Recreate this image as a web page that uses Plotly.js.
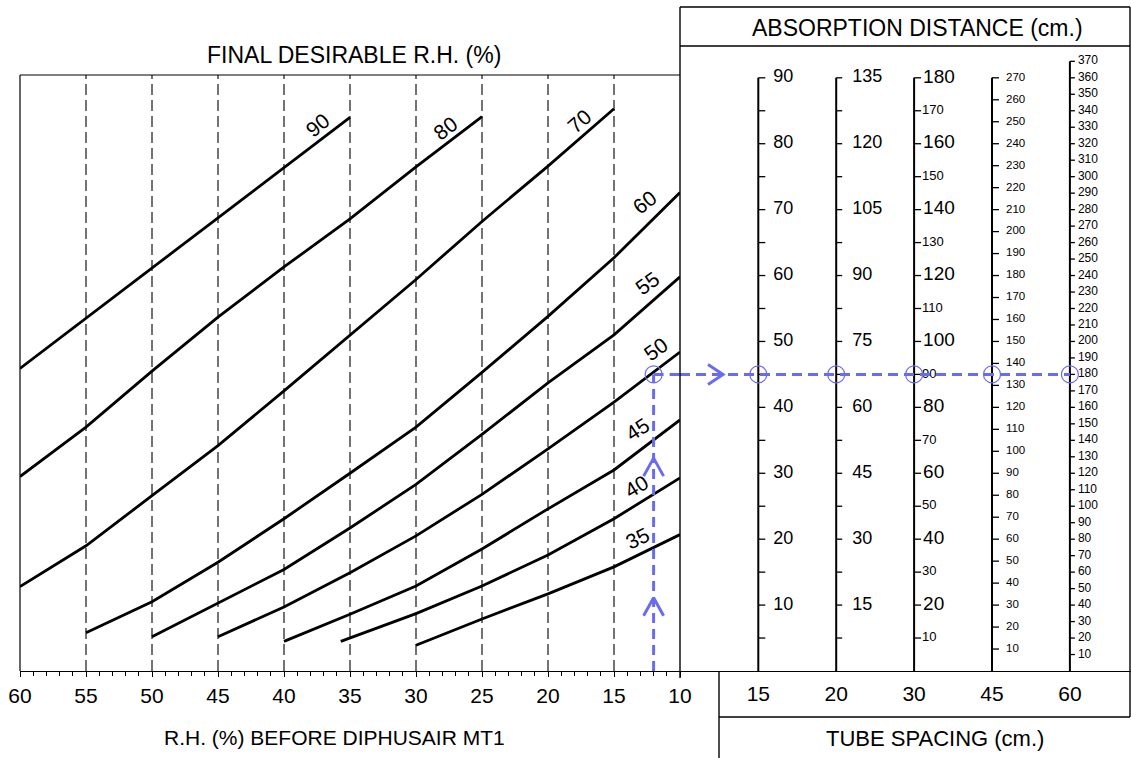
<!DOCTYPE html>
<html><head><meta charset="utf-8">
<script src="https://cdn.plot.ly/plotly-3.0.1.min.js"></script>
<style>html,body{margin:0;padding:0;background:#fff;}#chart{width:1131px;height:758px;}</style>
</head><body><div id="chart"></div>
<script>
// ---- DATA ----
// Final desirable R.H. curves: x = R.H. (%) before DIPHUSAIR, y = absorption distance on the 15 cm scale
const rh90 = [60, 55, 50, 45, 40, 35];
const ad90 = [45.9, 53.5, 61.2, 68.8, 76.4, 84.0];
const rh80 = [60, 55, 50, 45, 40, 35, 30, 25];
const ad80 = [29.5, 37.0, 45.5, 53.7, 61.3, 68.6, 76.5, 84.1];
const rh70 = [60, 55, 50, 45, 40, 35, 30, 25, 20, 15];
const ad70 = [12.8, 19.0, 26.6, 34.2, 42.5, 51.0, 59.4, 68.2, 76.6, 85.3];
const rh60 = [55, 50, 45, 40, 35, 30, 25, 20, 15, 10];
const ad60 = [5.8, 10.5, 16.5, 23.1, 30.0, 37.0, 45.3, 53.8, 62.7, 72.6];
const rh55 = [50, 45, 40, 35, 30, 25, 20, 15, 10];
const ad55 = [5.2, 10.3, 15.4, 21.7, 28.3, 35.9, 43.7, 51.0, 59.8];
const rh50 = [45, 40, 35, 30, 25, 20, 15, 10];
const ad50 = [5.2, 9.7, 14.9, 20.5, 26.8, 33.7, 40.8, 48.4];
const rh45 = [40, 35, 30, 25, 20, 15, 10];
const ad45 = [4.5, 8.6, 12.9, 18.5, 24.6, 30.5, 38.1];
const rh40 = [35.7, 30, 25, 20, 15, 10];
const ad40 = [4.5, 8.7, 12.9, 17.6, 23.1, 29.3];
const rh35 = [30, 25, 20, 15, 10];
const ad35 = [3.9, 7.9, 11.7, 15.8, 20.7];
const curveLabels = ['90', '80', '70', '60', '55', '50', '45', '40', '35'];

// x-axis ticks (R.H. before)
const rhTicks = [60, 55, 50, 45, 40, 35, 30, 25, 20, 15, 10];
const rhGrid = [55, 50, 45, 40, 35, 30, 25, 20, 15];

// Tube spacing (cm) and their absorption-distance scales (cm)
const tubeSpacing = ['15', '20', '30', '45', '60'];
const scaleFactor = [1, 1.5, 2, 3, 4];  // cm on each scale per unit of the 15 cm scale
const scale15Labels = [10, 20, 30, 40, 50, 60, 70, 80, 90];
const scale15Ticks = [5, 10, 15, 20, 25, 30, 35, 40, 45, 50, 55, 60, 65, 70, 75, 80, 85, 90];
const scale20Labels = [15, 30, 45, 60, 75, 90, 105, 120, 135];
const scale20Ticks = [7.5, 15, 22.5, 30, 37.5, 45, 52.5, 60, 67.5, 75, 82.5, 90, 97.5, 105, 112.5, 120, 127.5, 135];
const scale30Major = [20, 40, 60, 80, 100, 120, 140, 160, 180];
const scale30Minor = [10, 30, 50, 70, 90, 110, 130, 150, 170];
const scale45Labels = [10, 20, 30, 40, 50, 60, 70, 80, 90, 100, 110, 120, 130, 140, 150, 160, 170, 180, 190, 200, 210, 220, 230, 240, 250, 260, 270];
const scale60Labels = [10, 20, 30, 40, 50, 60, 70, 80, 90, 100, 110, 120, 130, 140, 150, 160, 170, 180, 190, 200, 210, 220, 230, 240, 250, 260, 270, 280, 290, 300, 310, 320, 330, 340, 350, 360, 370];

// Worked example
const exampleRH = 12;
const exampleAD = 45;
const exampleArrowsAD = [11.1, 32.3];

// ---- GEOMETRY HELPERS (layout only) ----
const W = 1131, H = 758, ML = 20, MR = 0, MT = 57, MB = 87;
const PW = W - ML - MR, PH = H - MT - MB;
const X = px => (px - ML) / PW;
const Y = py => (H - MB - py) / PH;
const pxPerAD = 6.591;
const yTop = PH / pxPerAD;
const leftDomEnd = X(680);
const x2Scale = 77.9, x2Zero = 758.3;
const x2Min = (680 - x2Zero) / x2Scale, x2Max = (W - x2Zero) / x2Scale;
const plotTopAD = (H - MB - 75) / pxPerAD;

const FONT = 'Liberation Sans, Arial, sans-serif';
const BLUE = '#6B6BEF';

const traces = [];
const curves = [[rh90, ad90], [rh80, ad80], [rh70, ad70], [rh60, ad60], [rh55, ad55], [rh50, ad50], [rh45, ad45], [rh40, ad40], [rh35, ad35]];
curves.forEach((c, i) => {
  traces.push({type: 'scatter', mode: 'lines', x: c[0], y: c[1], xaxis: 'x', yaxis: 'y',
    line: {color: '#000', width: 2.8}, hoverinfo: 'skip', name: curveLabels[i]});
});

// Right-hand scales
const scaleSets = [
  {ticks: scale15Ticks, labels: [{v: scale15Labels, size: 18}], tickLen: 7, gap: 15, top: 90},
  {ticks: scale20Ticks, labels: [{v: scale20Labels, size: 18}], tickLen: 6, gap: 16, top: 135},
  {ticks: scale30Major.concat(scale30Minor), labels: [{v: scale30Major, size: 19, gap: 9}, {v: scale30Minor, size: 13, gap: 8}], tickLen: 7, gap: 10, top: 180},
  {ticks: scale45Labels, labels: [{v: scale45Labels, size: 11.5}], tickLen: 7, gap: 14, top: 270},
  {ticks: scale60Labels, labels: [{v: scale60Labels, size: 12}], tickLen: 5, gap: 8, top: 370}
];
scaleSets.forEach((s, i) => {
  const f = scaleFactor[i];
  traces.push({type: 'scatter', mode: 'lines', x: [i, i], y: [0, s.top / f], xaxis: 'x2', yaxis: 'y',
    line: {color: '#000', width: 2}, hoverinfo: 'skip', cliponaxis: false});
  const tx = [], ty = [];
  s.ticks.forEach(t => { tx.push(i, i + s.tickLen / x2Scale, null); ty.push(t / f, t / f, null); });
  traces.push({type: 'scatter', mode: 'lines', x: tx, y: ty, xaxis: 'x2', yaxis: 'y',
    line: {color: '#000', width: 1.3}, hoverinfo: 'skip', cliponaxis: false});
  s.labels.forEach(l => {
    const g = (l.gap !== undefined ? l.gap : s.gap);
    traces.push({type: 'scatter', mode: 'text', x: l.v.map(() => i + g / x2Scale), y: l.v.map(v => v / f),
      text: l.v.map(String), textposition: 'middle right', xaxis: 'x2', yaxis: 'y',
      textfont: {family: FONT, size: l.size, color: '#000'}, hoverinfo: 'skip', cliponaxis: false});
  });
});

// Worked example (blue)
const dashLine = {color: BLUE, width: 3, dash: '10px,6px'};
traces.push({type: 'scatter', mode: 'lines', x: [exampleRH, exampleRH], y: [0, exampleAD], xaxis: 'x', yaxis: 'y', line: dashLine, hoverinfo: 'skip'});
traces.push({type: 'scatter', mode: 'lines', x: [exampleRH, rhTicks[rhTicks.length - 1]], y: [exampleAD, exampleAD], xaxis: 'x', yaxis: 'y', line: dashLine, hoverinfo: 'skip'});
traces.push({type: 'scatter', mode: 'lines', x: [x2Min, tubeSpacing.length - 1], y: [exampleAD, exampleAD], xaxis: 'x2', yaxis: 'y', line: dashLine, hoverinfo: 'skip', cliponaxis: false});
const cvx = [], cvy = [];
exampleArrowsAD.forEach(a => { cvx.push(exampleRH + 10 / 13.2, exampleRH, exampleRH - 10 / 13.2, null); cvy.push(a - 18 / pxPerAD, a, a - 18 / pxPerAD, null); });
traces.push({type: 'scatter', mode: 'lines', x: cvx, y: cvy, xaxis: 'x', yaxis: 'y', line: {color: BLUE, width: 3}, hoverinfo: 'skip'});
const rax = (723 - x2Zero) / x2Scale;
traces.push({type: 'scatter', mode: 'lines', x: [rax - 15 / x2Scale, rax, rax - 15 / x2Scale], y: [exampleAD + 10 / pxPerAD, exampleAD, exampleAD - 10 / pxPerAD], xaxis: 'x2', yaxis: 'y', line: {color: BLUE, width: 3}, hoverinfo: 'skip'});
traces.push({type: 'scatter', mode: 'markers', x: [exampleRH], y: [exampleAD], xaxis: 'x', yaxis: 'y',
  marker: {symbol: 'circle-open', size: 17, color: BLUE, line: {width: 1.2, color: BLUE}}, hoverinfo: 'skip'});
traces.push({type: 'scatter', mode: 'markers', x: tubeSpacing.map((_, i) => i), y: tubeSpacing.map(() => exampleAD), xaxis: 'x2', yaxis: 'y',
  marker: {symbol: 'circle-open', size: 17, color: BLUE, line: {width: 1.2, color: BLUE}}, hoverinfo: 'skip', cliponaxis: false});

// ---- SHAPES ----
const shapes = [];
rhGrid.forEach(g => shapes.push({type: 'line', xref: 'x', yref: 'y', x0: g, x1: g, y0: 0, y1: plotTopAD,
  line: {color: '#000', width: 1.1, dash: '11px,5px'}, layer: 'below'}));
const pl = (x0, y0, x1, y1, w) => shapes.push({type: 'line', xref: 'paper', yref: 'paper', x0: X(x0), y0: Y(y0), x1: X(x1), y1: Y(y1), line: {color: '#000', width: w || 1.2}});
pl(20, 75, 680, 75, 1.2);
pl(20, 75, 20, 671, 1.2);
pl(680, 7, 680, 678, 1.4);
pl(680, 7, 1130, 7, 1.4);
pl(680, 46, 1130, 46, 1.4);
pl(1130, 7, 1130, 717, 1.4);
pl(719, 671, 719, 758, 1.4);
pl(719, 717, 1130, 717, 1.4);

// ---- ANNOTATIONS ----
const ann = [];
const title = (text, px, py, size) => ann.push({xref: 'paper', yref: 'paper', x: X(px), y: Y(py), text: text, showarrow: false,
  xanchor: 'center', yanchor: 'middle', font: {family: FONT, size: size, color: '#000'}});
title('FINAL DESIRABLE R.H. (%)', 354, 55, 23);
title('ABSORPTION DISTANCE (cm.)', 917, 28, 23);
title('R.H. (%) BEFORE DIPHUSAIR MT1', 334, 737, 21);
title('TUBE SPACING (cm.)', 935, 738, 22);
// pixel offsets of each curve label from the curve's last point: [dx, dy(up +), angle]
const labelOffsets = [[-33, -8, -39], [-37, -12, -37], [-35, -13, -41], [-36, -10, -38], [-33, -7, -36], [-25, 3, -36], [-43, -10, -33], [-44, -9, -31], [-43, -4, -26]];
curves.forEach((c, i) => {
  const n = c[0].length - 1;
  const o = labelOffsets[i];
  ann.push({xref: 'x', yref: 'y', x: c[0][n], y: c[1][n], text: curveLabels[i], showarrow: false,
    xshift: o[0], yshift: o[1], textangle: o[2], xanchor: 'center', yanchor: 'middle',
    font: {family: FONT, size: 21, color: '#000'}});
});

const layout = {
  width: W, height: H, margin: {l: ML, r: MR, t: MT, b: MB, pad: 0},
  paper_bgcolor: '#fff', plot_bgcolor: '#fff', showlegend: false,
  font: {family: FONT, color: '#000'},
  xaxis: {domain: [0, leftDomEnd], range: [60, 10], tickmode: 'array', tickvals: rhTicks, ticktext: rhTicks.map(String),
    ticks: 'outside', ticklen: 5, tickwidth: 1, tickcolor: '#000', showline: true, linecolor: '#000', linewidth: 1.4,
    showgrid: false, zeroline: false, tickfont: {family: FONT, size: 21, color: '#000'}, fixedrange: true,
    minor: {tickmode: 'linear', tick0: 10, dtick: 1, ticks: 'outside', ticklen: 4, tickwidth: 1, tickcolor: '#000', showgrid: false}},
  xaxis2: {domain: [leftDomEnd, 1], range: [x2Min, x2Max], anchor: 'y', tickmode: 'array',
    tickvals: tubeSpacing.map((_, i) => i), ticktext: tubeSpacing, ticks: 'outside', ticklen: 3, tickcolor: 'rgba(0,0,0,0)',
    showline: true, linecolor: '#000', linewidth: 1.4, showgrid: false, zeroline: false,
    tickfont: {family: FONT, size: 21, color: '#000'}, fixedrange: true},
  yaxis: {range: [0, yTop], visible: false, showgrid: false, zeroline: false, fixedrange: true},
  shapes: shapes, annotations: ann
};
Plotly.newPlot('chart', traces, layout, {displayModeBar: false, staticPlot: true});
</script></body></html>
